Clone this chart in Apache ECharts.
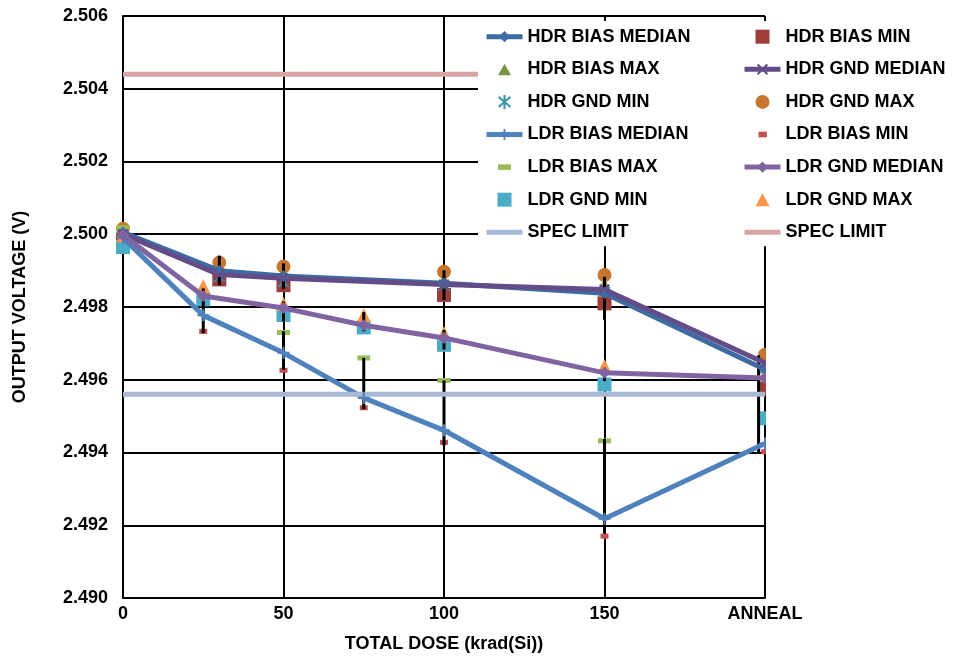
<!DOCTYPE html>
<html>
<head>
<meta charset="utf-8">
<script src="https://cdn.jsdelivr.net/npm/echarts@6/dist/echarts.min.js"></script>
<style>
html,body{margin:0;padding:0;background:#fff;}
#chart{width:953px;height:658px;}
</style>
</head>
<body>
<div id="chart"></div>
<script>
// ---- data ----
const hdrX = [0, 30, 50, 100, 150, 200];
const ldrX = [0, 25, 50, 75, 100, 150, 200];

const hdrBiasMedian = [2.50005, 2.49900, 2.49885, 2.49865, 2.49838, 2.49628];
const hdrBiasMin    = [2.49985, 2.49876, 2.49860, 2.49833, 2.49810, 2.49575];
const hdrBiasMax    = [2.50010, 2.49912, 2.49894, 2.49874, 2.49862, 2.49644];
const hdrGndMedian  = [2.50000, 2.49889, 2.49879, 2.49862, 2.49848, 2.49646];
const hdrGndMin     = [2.49990, 2.49882, 2.49867, 2.49857, 2.49842, 2.49630];
const hdrGndMax     = [2.50015, 2.49922, 2.49911, 2.49897, 2.49888, 2.49669];

const ldrBiasMedian = [2.49990, 2.49777, 2.49674, 2.49550, 2.49461, 2.49218, 2.49425];
const ldrBiasMin    = [2.49980, 2.49733, 2.49626, 2.49523, 2.49428, 2.49170, 2.49402];
const ldrBiasMax    = [2.50018, 2.49820, 2.49730, 2.49660, 2.49598, 2.49432, 2.49601];
const ldrGndMedian  = [2.49998, 2.49830, 2.49797, 2.49750, 2.49715, 2.49619, 2.49605];
const ldrGndMin     = [2.49965, 2.49821, 2.49778, 2.49744, 2.49696, 2.49587, 2.49494];
const ldrGndMax     = [2.49997, 2.49857, 2.49808, 2.49777, 2.49728, 2.49637, 2.49616];

const specX = [0, 200];
const specLow  = [2.4956, 2.4956];
const specHigh = [2.5044, 2.5044];

// black range bars
const barX    = [30, 50, 100, 150, 25, 50, 50, 75, 75, 100, 100, 150, 150, 198];
const barLow  = [2.49860, 2.49850, 2.49819, 2.49765, 2.49728, 2.49760, 2.49628, 2.49733, 2.49519, 2.49683, 2.49419, 2.49596, 2.49177, 2.49396];
const barHigh = [2.49941, 2.49920, 2.49901, 2.49883, 2.49851, 2.49815, 2.49733, 2.49786, 2.49660, 2.49737, 2.49598, 2.49633, 2.49437, 2.49667];

const yTicks = { min: 2.490, max: 2.506, step: 0.002 };
const xTicks = { min: 0, max: 200, step: 50, lastLabel: 'ANNEAL' };

const legendCol1 = ['HDR BIAS MEDIAN', 'HDR BIAS MAX', 'HDR GND MIN', 'LDR BIAS MEDIAN', 'LDR BIAS MAX', 'LDR GND MIN', 'SPEC LIMIT'];
const legendCol2 = ['HDR BIAS MIN', 'HDR GND MEDIAN', 'HDR GND MAX', 'LDR BIAS MIN', 'LDR GND MEDIAN', 'LDR GND MAX', 'SPEC LIMIT '];

// ---- build ----
const FONT = '"Liberation Sans", Arial, sans-serif';
const pairs = (xs, ys) => xs.map((x, i) => [x, ys[i]]);

const SYM = {
  x: 'path://M0,1.6 L1.6,0 L6,4.4 L10.4,0 L12,1.6 L7.6,6 L12,10.4 L10.4,12 L6,7.6 L1.6,12 L0,10.4 L4.4,6 Z',
  star: 'path://M5.1,0 H6.9 V12 H5.1 Z M0.5,2.4 L1.4,0.9 L11.5,9.6 L10.6,11.1 Z M10.6,0.9 L11.5,2.4 L1.4,11.1 L0.5,9.6 Z',
  plus: 'path://M0,5 H12 V7 H0 Z M5,0 H7 V12 H5 Z'
};

function lineSeries(name, xs, ys, color, symbol, size) {
  return {
    name, type: 'line', data: pairs(xs, ys),
    symbol, symbolSize: size, showSymbol: true,
    lineStyle: { color, width: 5 }, itemStyle: { color },
    emphasis: { disabled: true }, animation: false, clip: false
  };
}
function scatterSeries(name, xs, ys, color, symbol, size) {
  return {
    name, type: 'scatter', data: pairs(xs, ys),
    symbol, symbolSize: size, itemStyle: { color, opacity: 1 },
    emphasis: { disabled: true }, animation: false, clip: false
  };
}

const series = [
  lineSeries('HDR BIAS MEDIAN', hdrX, hdrBiasMedian, '#3E6BA1', 'diamond', 12),
  scatterSeries('HDR BIAS MIN', hdrX, hdrBiasMin, '#9D3C39', 'rect', 14),
  scatterSeries('HDR BIAS MAX', hdrX, hdrBiasMax, '#77953F', 'triangle', 13),
  lineSeries('HDR GND MEDIAN', hdrX, hdrGndMedian, '#634C87', SYM.x, 11),
  scatterSeries('HDR GND MIN', hdrX, hdrGndMin, '#3A93AA', SYM.star, 12),
  scatterSeries('HDR GND MAX', hdrX, hdrGndMax, '#C77630', 'circle', 14),
  lineSeries('LDR BIAS MEDIAN', ldrX, ldrBiasMedian, '#4F81BD', SYM.plus, 12),
  scatterSeries('LDR BIAS MIN', ldrX, ldrBiasMin, '#C0504D', 'rect', [8, 5]),
  scatterSeries('LDR BIAS MAX', ldrX, ldrBiasMax, '#9BBB59', 'rect', [13, 5]),
  lineSeries('LDR GND MEDIAN', ldrX, ldrGndMedian, '#8064A2', 'diamond', 12),
  scatterSeries('LDR GND MIN', ldrX, ldrGndMin, '#4BACC6', 'rect', 14),
  scatterSeries('LDR GND MAX', ldrX, ldrGndMax, '#F79646', 'triangle', 14),
  lineSeries('SPEC LIMIT', specX, specLow, '#A7B9D6', 'none', 0),
  lineSeries('SPEC LIMIT ', specX, specHigh, '#D8A5A4', 'none', 0),
  {
    name: 'range', type: 'custom', z: 3, animation: false, clip: false,
    data: barX.map((x, i) => [x, barLow[i], barHigh[i]]),
    encode: { x: 0, y: [1, 2] },
    renderItem: function (params, api) {
      const p1 = api.coord([api.value(0), api.value(1)]);
      const p2 = api.coord([api.value(0), api.value(2)]);
      return { type: 'line', shape: { x1: p1[0], y1: p1[1], x2: p2[0], y2: p2[1] },
               style: { stroke: '#000', lineWidth: 3 } };
    }
  }
];

// legend icons drawn inside a 36x14 box (the leading moves fix the box)
const BOX = 'path://M0,0 M36,14 ';
const legendIcons = {
  'HDR BIAS MIN': BOX + 'M11,0 H25 V14 H11 Z',
  'HDR BIAS MAX': BOX + 'M11.5,13 L18,1.5 L24.5,13 Z',
  'LDR GND MIN':  BOX + 'M11,0 H25 V14 H11 Z',
  'LDR GND MAX':  BOX + 'M11,13.5 L18,0.5 L25,13.5 Z',
  'LDR BIAS MIN': BOX + 'M14,4.2 H22.4 V9.8 H14 Z',
  'LDR BIAS MAX': BOX + 'M11.5,4.2 H24.5 V9.8 H11.5 Z',
  'SPEC LIMIT':   BOX + 'M0,4.5 H36 V9.5 H0 Z',
  'SPEC LIMIT ':  BOX + 'M0,4.5 H36 V9.5 H0 Z'
};
const legendData = arr => arr.map(n => legendIcons[n] ? { name: n, icon: legendIcons[n] } : { name: n });

const legendText = { fontFamily: FONT, fontSize: 18, fontWeight: 'bold', color: '#000', lineHeight: 20 };

const option = {
  animation: false,
  backgroundColor: '#fff',
  grid: { left: 123, right: 188, top: 16, bottom: 56, containLabel: false },
  legend: [
    {
      orient: 'vertical', left: 478, top: 21, padding: [5.7, 300, 4, 6],
      itemWidth: 36, itemHeight: 14, itemGap: 12.6,
      backgroundColor: '#fff', selectedMode: false, z: 6,
      lineStyle: { width: 5 },
      textStyle: legendText, data: legendData(legendCol1)
    },
    {
      orient: 'vertical', left: 742, top: 26.7, padding: 0,
      itemWidth: 36, itemHeight: 14, itemGap: 12.6,
      selectedMode: false, z: 7,
      lineStyle: { width: 5 },
      textStyle: legendText, data: legendData(legendCol2)
    }
  ],
  // white mask right of the plot frame (the reference clips marks at the frame)
  graphic: {
    elements: [{
      type: 'rect', z: 5, silent: true,
      shape: { x: 766, y: 17, width: 187, height: 584 },
      style: { fill: '#fff' }
    }]
  },
  xAxis: {
    type: 'value', min: xTicks.min, max: xTicks.max, interval: xTicks.step,
    name: 'TOTAL DOSE (krad(Si))', nameLocation: 'middle', nameGap: 37,
    nameTextStyle: { fontFamily: FONT, fontSize: 18, fontWeight: 'bold', color: '#000' },
    axisLine: { show: true, lineStyle: { color: '#000', width: 2 } },
    axisTick: { show: false },
    axisLabel: { margin: 7, fontFamily: FONT, fontSize: 18, fontWeight: 'bold', color: '#000',
      formatter: v => (v === xTicks.max ? xTicks.lastLabel : String(v)) },
    splitLine: { show: true, lineStyle: { color: '#000', width: 2 } }
  },
  yAxis: {
    type: 'value', min: yTicks.min, max: yTicks.max, interval: yTicks.step,
    name: 'OUTPUT VOLTAGE (V)', nameLocation: 'middle', nameGap: 94,
    nameTextStyle: { fontFamily: FONT, fontSize: 18, fontWeight: 'bold', color: '#000' },
    axisLine: { show: true, lineStyle: { color: '#000', width: 2 } },
    axisTick: { show: false },
    axisLabel: { margin: 15, fontFamily: FONT, fontSize: 18, fontWeight: 'bold', color: '#000',
      formatter: v => Number(v).toFixed(3) },
    splitLine: { show: true, lineStyle: { color: '#000', width: 2 } }
  },
  series
};

const chart = echarts.init(document.getElementById('chart'), null, { renderer: 'canvas' });
chart.setOption(option);
</script>
</body>
</html>
